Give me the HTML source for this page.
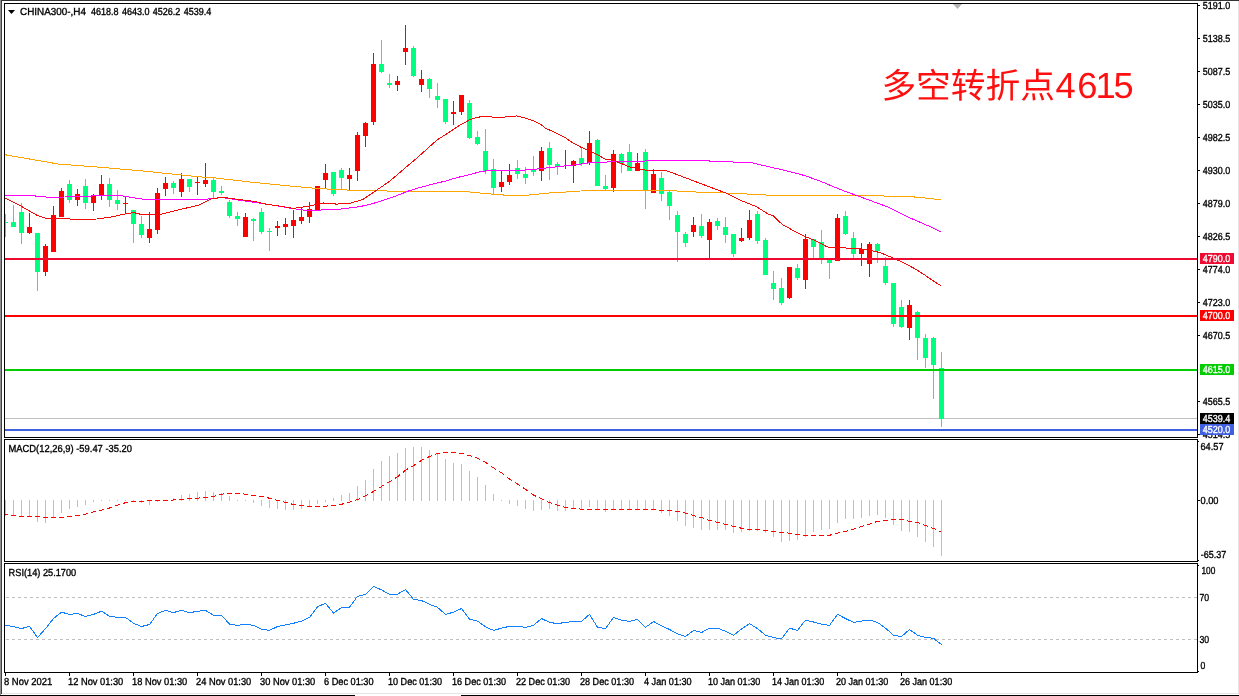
<!DOCTYPE html>
<html><head><meta charset="utf-8"><title>CHINA300-,H4</title>
<style>html,body{margin:0;padding:0;background:#fff;overflow:hidden}body{width:1239px;height:696px}svg{display:block}text{font-family:"Liberation Sans","Noto Sans CJK SC",sans-serif;font-size:10.2px;text-rendering:geometricPrecision;fill:#000;stroke:#000;stroke-width:.35px}.t{font-size:34px;fill:#ff1010;stroke:none}.w{fill:#fff;stroke:#fff}</style>
</head><body>
<svg width="1239" height="696" viewBox="0 0 1239 696">
<rect width="1239" height="696" fill="#fff"/>
<g shape-rendering="crispEdges">
<rect x="0" y="0" width="1239" height="1" fill="#333"/>
<rect x="0" y="0" width="1" height="696" fill="#909090"/>
<rect x="1" y="0" width="1" height="694" fill="#404040"/>
<rect x="1238" y="1" width="1" height="693" fill="#e4e4e4"/>
<rect x="2" y="693" width="1237" height="1" fill="#e4e4e4"/>
<rect x="0" y="695" width="1239" height="1" fill="#000"/>
<rect x="355" y="695" width="106" height="1" fill="#fff"/>
<rect x="4" y="3" width="1194" height="1" fill="#000"/>
<rect x="4" y="437" width="1194" height="1" fill="#000"/>
<rect x="4" y="3" width="1" height="435" fill="#000"/>
<rect x="1197" y="3" width="1" height="435" fill="#000"/>
<rect x="4" y="439" width="1194" height="1" fill="#000"/>
<rect x="4" y="561" width="1194" height="1" fill="#000"/>
<rect x="4" y="439" width="1" height="123" fill="#000"/>
<rect x="1197" y="439" width="1" height="123" fill="#000"/>
<rect x="4" y="563" width="1194" height="1" fill="#000"/>
<rect x="4" y="672" width="1194" height="1" fill="#000"/>
<rect x="4" y="563" width="1" height="110" fill="#000"/>
<rect x="1197" y="563" width="1" height="110" fill="#000"/>
<rect x="1198" y="441" width="1" height="1" fill="#000"/>
<rect x="1198" y="560" width="1" height="1" fill="#000"/>
<rect x="1198" y="565" width="1" height="1" fill="#000"/>
<rect x="1198" y="671" width="1" height="1" fill="#000"/>
</g>
<defs><clipPath id="c1"><rect x="5" y="4" width="1192" height="433"/></clipPath><clipPath id="c2"><rect x="5" y="440" width="1192" height="121"/></clipPath><clipPath id="c3"><rect x="5" y="564" width="1192" height="108"/></clipPath></defs>
<g clip-path="url(#c1)">
<path d="M953 4h9l-4.5 5z" fill="#b4b4b4"/>
<g shape-rendering="crispEdges">
<rect x="5" y="418" width="1192" height="1" fill="#c0c0c0"/>
</g>
<g shape-rendering="crispEdges">
<rect x="5" y="214" width="1" height="23" fill="#00ff7f"/>
<rect x="3" y="222" width="5" height="1" fill="#00ff7f"/>
<rect x="13" y="205" width="1" height="22" fill="#00ff7f"/>
<rect x="11" y="222" width="5" height="5" fill="#00ff7f"/>
<rect x="21" y="203" width="1" height="41" fill="#00ff7f"/>
<rect x="19" y="212" width="5" height="21" fill="#00ff7f"/>
<rect x="29" y="213" width="1" height="21" fill="#ff0000"/>
<rect x="27" y="227" width="5" height="6" fill="#ff0000"/>
<rect x="37" y="233" width="1" height="58" fill="#00ff7f"/>
<rect x="35" y="233" width="5" height="39" fill="#00ff7f"/>
<rect x="45" y="244" width="1" height="32" fill="#ff0000"/>
<rect x="43" y="246" width="5" height="26" fill="#ff0000"/>
<rect x="53" y="206" width="1" height="46" fill="#ff0000"/>
<rect x="51" y="215" width="5" height="37" fill="#ff0000"/>
<rect x="61" y="188" width="1" height="29" fill="#ff0000"/>
<rect x="59" y="191" width="5" height="26" fill="#ff0000"/>
<rect x="69" y="180" width="1" height="23" fill="#00ff7f"/>
<rect x="67" y="184" width="5" height="16" fill="#00ff7f"/>
<rect x="77" y="189" width="1" height="17" fill="#ff0000"/>
<rect x="75" y="194" width="5" height="6" fill="#ff0000"/>
<rect x="85" y="179" width="1" height="30" fill="#00ff7f"/>
<rect x="83" y="186" width="5" height="17" fill="#00ff7f"/>
<rect x="93" y="194" width="1" height="17" fill="#ff0000"/>
<rect x="91" y="195" width="5" height="8" fill="#ff0000"/>
<rect x="101" y="175" width="1" height="25" fill="#ff0000"/>
<rect x="99" y="184" width="5" height="11" fill="#ff0000"/>
<rect x="109" y="178" width="1" height="29" fill="#00ff7f"/>
<rect x="107" y="184" width="5" height="16" fill="#00ff7f"/>
<rect x="117" y="190" width="1" height="20" fill="#00ff7f"/>
<rect x="115" y="200" width="5" height="4" fill="#00ff7f"/>
<rect x="125" y="196" width="1" height="18" fill="#ff0000"/>
<rect x="123" y="203" width="5" height="1" fill="#ff0000"/>
<rect x="133" y="210" width="1" height="33" fill="#00ff7f"/>
<rect x="131" y="210" width="5" height="14" fill="#00ff7f"/>
<rect x="141" y="216" width="1" height="22" fill="#00ff7f"/>
<rect x="139" y="224" width="5" height="11" fill="#00ff7f"/>
<rect x="149" y="212" width="1" height="31" fill="#ff0000"/>
<rect x="147" y="229" width="5" height="9" fill="#ff0000"/>
<rect x="157" y="188" width="1" height="46" fill="#ff0000"/>
<rect x="155" y="193" width="5" height="37" fill="#ff0000"/>
<rect x="165" y="177" width="1" height="19" fill="#ff0000"/>
<rect x="163" y="183" width="5" height="6" fill="#ff0000"/>
<rect x="173" y="181" width="1" height="13" fill="#00ff7f"/>
<rect x="171" y="183" width="5" height="5" fill="#00ff7f"/>
<rect x="181" y="173" width="1" height="24" fill="#ff0000"/>
<rect x="179" y="179" width="5" height="13" fill="#ff0000"/>
<rect x="189" y="179" width="1" height="13" fill="#00ff7f"/>
<rect x="187" y="179" width="5" height="8" fill="#00ff7f"/>
<rect x="197" y="176" width="1" height="19" fill="#ff0000"/>
<rect x="195" y="182" width="5" height="1" fill="#ff0000"/>
<rect x="205" y="163" width="1" height="24" fill="#ff0000"/>
<rect x="203" y="180" width="5" height="4" fill="#ff0000"/>
<rect x="213" y="178" width="1" height="20" fill="#00ff7f"/>
<rect x="211" y="180" width="5" height="12" fill="#00ff7f"/>
<rect x="221" y="186" width="1" height="9" fill="#00ff7f"/>
<rect x="219" y="191" width="5" height="2" fill="#00ff7f"/>
<rect x="229" y="200" width="1" height="18" fill="#00ff7f"/>
<rect x="227" y="202" width="5" height="14" fill="#00ff7f"/>
<rect x="237" y="212" width="1" height="14" fill="#00ff7f"/>
<rect x="235" y="216" width="5" height="3" fill="#00ff7f"/>
<rect x="245" y="213" width="1" height="24" fill="#ff0000"/>
<rect x="243" y="217" width="5" height="20" fill="#ff0000"/>
<rect x="253" y="218" width="1" height="23" fill="#00ff7f"/>
<rect x="251" y="219" width="5" height="2" fill="#00ff7f"/>
<rect x="261" y="208" width="1" height="26" fill="#00ff7f"/>
<rect x="259" y="212" width="5" height="20" fill="#00ff7f"/>
<rect x="269" y="228" width="1" height="23" fill="#00ff7f"/>
<rect x="267" y="231" width="5" height="1" fill="#00ff7f"/>
<rect x="277" y="221" width="1" height="15" fill="#ff0000"/>
<rect x="275" y="226" width="5" height="2" fill="#ff0000"/>
<rect x="285" y="218" width="1" height="17" fill="#ff0000"/>
<rect x="283" y="224" width="5" height="3" fill="#ff0000"/>
<rect x="293" y="210" width="1" height="28" fill="#ff0000"/>
<rect x="291" y="220" width="5" height="6" fill="#ff0000"/>
<rect x="301" y="207" width="1" height="17" fill="#ff0000"/>
<rect x="299" y="217" width="5" height="4" fill="#ff0000"/>
<rect x="309" y="202" width="1" height="21" fill="#ff0000"/>
<rect x="307" y="209" width="5" height="8" fill="#ff0000"/>
<rect x="317" y="186" width="1" height="24" fill="#ff0000"/>
<rect x="315" y="186" width="5" height="24" fill="#ff0000"/>
<rect x="325" y="164" width="1" height="25" fill="#ff0000"/>
<rect x="323" y="173" width="5" height="7" fill="#ff0000"/>
<rect x="333" y="172" width="1" height="24" fill="#00ff7f"/>
<rect x="331" y="172" width="5" height="22" fill="#00ff7f"/>
<rect x="341" y="168" width="1" height="21" fill="#00ff7f"/>
<rect x="339" y="170" width="5" height="8" fill="#00ff7f"/>
<rect x="349" y="168" width="1" height="22" fill="#ff0000"/>
<rect x="347" y="175" width="5" height="4" fill="#ff0000"/>
<rect x="357" y="132" width="1" height="49" fill="#ff0000"/>
<rect x="355" y="135" width="5" height="36" fill="#ff0000"/>
<rect x="365" y="122" width="1" height="25" fill="#ff0000"/>
<rect x="363" y="123" width="5" height="13" fill="#ff0000"/>
<rect x="373" y="53" width="1" height="72" fill="#ff0000"/>
<rect x="371" y="64" width="5" height="58" fill="#ff0000"/>
<rect x="381" y="40" width="1" height="33" fill="#00ff7f"/>
<rect x="379" y="64" width="5" height="8" fill="#00ff7f"/>
<rect x="389" y="74" width="1" height="14" fill="#00ff7f"/>
<rect x="387" y="83" width="5" height="2" fill="#00ff7f"/>
<rect x="397" y="76" width="1" height="15" fill="#ff0000"/>
<rect x="395" y="81" width="5" height="4" fill="#ff0000"/>
<rect x="405" y="25" width="1" height="40" fill="#ff0000"/>
<rect x="403" y="48" width="5" height="4" fill="#ff0000"/>
<rect x="413" y="46" width="1" height="31" fill="#00ff7f"/>
<rect x="411" y="48" width="5" height="28" fill="#00ff7f"/>
<rect x="421" y="70" width="1" height="22" fill="#ff0000"/>
<rect x="419" y="79" width="5" height="6" fill="#ff0000"/>
<rect x="429" y="78" width="1" height="20" fill="#00ff7f"/>
<rect x="427" y="79" width="5" height="10" fill="#00ff7f"/>
<rect x="437" y="83" width="1" height="25" fill="#00ff7f"/>
<rect x="435" y="96" width="5" height="4" fill="#00ff7f"/>
<rect x="445" y="99" width="1" height="25" fill="#00ff7f"/>
<rect x="443" y="99" width="5" height="23" fill="#00ff7f"/>
<rect x="453" y="101" width="1" height="24" fill="#ff0000"/>
<rect x="451" y="112" width="5" height="2" fill="#ff0000"/>
<rect x="461" y="95" width="1" height="20" fill="#ff0000"/>
<rect x="459" y="95" width="5" height="17" fill="#ff0000"/>
<rect x="469" y="100" width="1" height="39" fill="#00ff7f"/>
<rect x="467" y="103" width="5" height="35" fill="#00ff7f"/>
<rect x="477" y="131" width="1" height="14" fill="#00ff7f"/>
<rect x="475" y="137" width="5" height="7" fill="#00ff7f"/>
<rect x="485" y="129" width="1" height="45" fill="#00ff7f"/>
<rect x="483" y="151" width="5" height="20" fill="#00ff7f"/>
<rect x="493" y="159" width="1" height="35" fill="#00ff7f"/>
<rect x="491" y="169" width="5" height="19" fill="#00ff7f"/>
<rect x="501" y="170" width="1" height="22" fill="#ff0000"/>
<rect x="499" y="182" width="5" height="5" fill="#ff0000"/>
<rect x="509" y="164" width="1" height="21" fill="#ff0000"/>
<rect x="507" y="175" width="5" height="7" fill="#ff0000"/>
<rect x="517" y="160" width="1" height="19" fill="#00ff7f"/>
<rect x="515" y="168" width="5" height="6" fill="#00ff7f"/>
<rect x="525" y="167" width="1" height="17" fill="#00ff7f"/>
<rect x="523" y="174" width="5" height="4" fill="#00ff7f"/>
<rect x="533" y="156" width="1" height="20" fill="#00ff7f"/>
<rect x="531" y="170" width="5" height="2" fill="#00ff7f"/>
<rect x="541" y="147" width="1" height="34" fill="#ff0000"/>
<rect x="539" y="151" width="5" height="20" fill="#ff0000"/>
<rect x="549" y="142" width="1" height="38" fill="#00ff7f"/>
<rect x="547" y="148" width="5" height="17" fill="#00ff7f"/>
<rect x="557" y="162" width="1" height="13" fill="#00ff7f"/>
<rect x="555" y="164" width="5" height="3" fill="#00ff7f"/>
<rect x="565" y="150" width="1" height="19" fill="#ff0000"/>
<rect x="573" y="160" width="1" height="23" fill="#ff0000"/>
<rect x="571" y="161" width="5" height="5" fill="#ff0000"/>
<rect x="581" y="148" width="1" height="18" fill="#00ff7f"/>
<rect x="579" y="158" width="5" height="6" fill="#00ff7f"/>
<rect x="589" y="131" width="1" height="34" fill="#ff0000"/>
<rect x="587" y="143" width="5" height="20" fill="#ff0000"/>
<rect x="597" y="139" width="1" height="47" fill="#00ff7f"/>
<rect x="595" y="140" width="5" height="46" fill="#00ff7f"/>
<rect x="605" y="175" width="1" height="15" fill="#00ff7f"/>
<rect x="603" y="186" width="5" height="3" fill="#00ff7f"/>
<rect x="613" y="150" width="1" height="42" fill="#ff0000"/>
<rect x="611" y="154" width="5" height="34" fill="#ff0000"/>
<rect x="621" y="153" width="1" height="20" fill="#00ff7f"/>
<rect x="619" y="154" width="5" height="10" fill="#00ff7f"/>
<rect x="629" y="144" width="1" height="27" fill="#00ff7f"/>
<rect x="627" y="152" width="5" height="19" fill="#00ff7f"/>
<rect x="637" y="153" width="1" height="18" fill="#ff0000"/>
<rect x="635" y="163" width="5" height="8" fill="#ff0000"/>
<rect x="645" y="149" width="1" height="60" fill="#00ff7f"/>
<rect x="643" y="152" width="5" height="39" fill="#00ff7f"/>
<rect x="653" y="169" width="1" height="24" fill="#ff0000"/>
<rect x="651" y="174" width="5" height="19" fill="#ff0000"/>
<rect x="661" y="172" width="1" height="29" fill="#00ff7f"/>
<rect x="659" y="178" width="5" height="16" fill="#00ff7f"/>
<rect x="669" y="191" width="1" height="29" fill="#00ff7f"/>
<rect x="667" y="192" width="5" height="14" fill="#00ff7f"/>
<rect x="677" y="211" width="1" height="51" fill="#00ff7f"/>
<rect x="675" y="215" width="5" height="17" fill="#00ff7f"/>
<rect x="685" y="232" width="1" height="15" fill="#00ff7f"/>
<rect x="683" y="234" width="5" height="9" fill="#00ff7f"/>
<rect x="693" y="217" width="1" height="20" fill="#ff0000"/>
<rect x="691" y="225" width="5" height="7" fill="#ff0000"/>
<rect x="701" y="214" width="1" height="24" fill="#00ff7f"/>
<rect x="699" y="226" width="5" height="10" fill="#00ff7f"/>
<rect x="709" y="219" width="1" height="39" fill="#ff0000"/>
<rect x="707" y="222" width="5" height="18" fill="#ff0000"/>
<rect x="717" y="218" width="1" height="12" fill="#00ff7f"/>
<rect x="715" y="221" width="5" height="5" fill="#00ff7f"/>
<rect x="725" y="217" width="1" height="26" fill="#00ff7f"/>
<rect x="723" y="227" width="5" height="8" fill="#00ff7f"/>
<rect x="733" y="234" width="1" height="23" fill="#00ff7f"/>
<rect x="731" y="234" width="5" height="20" fill="#00ff7f"/>
<rect x="741" y="228" width="1" height="14" fill="#ff0000"/>
<rect x="739" y="238" width="5" height="3" fill="#ff0000"/>
<rect x="749" y="210" width="1" height="30" fill="#ff0000"/>
<rect x="747" y="220" width="5" height="18" fill="#ff0000"/>
<rect x="757" y="211" width="1" height="33" fill="#00ff7f"/>
<rect x="755" y="214" width="5" height="27" fill="#00ff7f"/>
<rect x="765" y="238" width="1" height="37" fill="#00ff7f"/>
<rect x="763" y="240" width="5" height="35" fill="#00ff7f"/>
<rect x="773" y="271" width="1" height="29" fill="#00ff7f"/>
<rect x="771" y="283" width="5" height="6" fill="#00ff7f"/>
<rect x="781" y="278" width="1" height="27" fill="#00ff7f"/>
<rect x="779" y="288" width="5" height="15" fill="#00ff7f"/>
<rect x="789" y="267" width="1" height="32" fill="#ff0000"/>
<rect x="787" y="267" width="5" height="31" fill="#ff0000"/>
<rect x="797" y="264" width="1" height="16" fill="#00ff7f"/>
<rect x="795" y="268" width="5" height="10" fill="#00ff7f"/>
<rect x="805" y="234" width="1" height="55" fill="#ff0000"/>
<rect x="803" y="239" width="5" height="41" fill="#ff0000"/>
<rect x="813" y="239" width="1" height="19" fill="#00ff7f"/>
<rect x="811" y="239" width="5" height="8" fill="#00ff7f"/>
<rect x="821" y="230" width="1" height="34" fill="#00ff7f"/>
<rect x="819" y="242" width="5" height="16" fill="#00ff7f"/>
<rect x="829" y="260" width="1" height="19" fill="#00ff7f"/>
<rect x="827" y="260" width="5" height="3" fill="#00ff7f"/>
<rect x="837" y="214" width="1" height="47" fill="#ff0000"/>
<rect x="835" y="218" width="5" height="43" fill="#ff0000"/>
<rect x="845" y="211" width="1" height="24" fill="#00ff7f"/>
<rect x="843" y="216" width="5" height="18" fill="#00ff7f"/>
<rect x="853" y="232" width="1" height="26" fill="#00ff7f"/>
<rect x="851" y="238" width="5" height="16" fill="#00ff7f"/>
<rect x="861" y="243" width="1" height="23" fill="#ff0000"/>
<rect x="859" y="249" width="5" height="5" fill="#ff0000"/>
<rect x="869" y="242" width="1" height="35" fill="#ff0000"/>
<rect x="867" y="244" width="5" height="20" fill="#ff0000"/>
<rect x="877" y="243" width="1" height="20" fill="#00ff7f"/>
<rect x="875" y="244" width="5" height="7" fill="#00ff7f"/>
<rect x="885" y="257" width="1" height="28" fill="#00ff7f"/>
<rect x="883" y="266" width="5" height="17" fill="#00ff7f"/>
<rect x="893" y="283" width="1" height="44" fill="#00ff7f"/>
<rect x="891" y="283" width="5" height="41" fill="#00ff7f"/>
<rect x="901" y="300" width="1" height="28" fill="#00ff7f"/>
<rect x="899" y="307" width="5" height="20" fill="#00ff7f"/>
<rect x="909" y="300" width="1" height="40" fill="#ff0000"/>
<rect x="907" y="305" width="5" height="23" fill="#ff0000"/>
<rect x="917" y="311" width="1" height="49" fill="#00ff7f"/>
<rect x="915" y="312" width="5" height="26" fill="#00ff7f"/>
<rect x="925" y="334" width="1" height="34" fill="#00ff7f"/>
<rect x="923" y="338" width="5" height="20" fill="#00ff7f"/>
<rect x="933" y="337" width="1" height="62" fill="#00ff7f"/>
<rect x="931" y="338" width="5" height="27" fill="#00ff7f"/>
<rect x="941" y="352" width="1" height="75" fill="#00ff7f"/>
<rect x="939" y="368" width="5" height="51" fill="#00ff7f"/>
</g>
<polyline points="4.7,154.7 58.2,164.0 99.1,167.2 137.9,170.5 200.0,176.9 213.7,177.8 254.7,182.5 287.0,185.7 317.2,188.5 348.4,190.1 372.6,190.8 409.0,191.3 464.6,191.5 481.6,193.2 505.8,195.2 527.6,195.2 551.8,192.7 566.3,192.0 590.6,190.3 620.9,190.2 670.0,190.6 704.7,192.5 730.5,193.1 760.7,194.8 786.6,195.9 812.4,195.9 840.0,195.3 861.5,195.4 890.6,196.2 905.1,196.2 922.5,197.7 940.5,199.7" fill="none" stroke="#ffa500" stroke-width="1" stroke-linejoin="round" shape-rendering="crispEdges" />
<polyline points="4.7,195.3 32.3,195.7 49.6,197.4 64.7,197.0 86.2,196.3 103.4,195.3 120.7,195.7 133.6,197.8 146.6,199.6 200.0,199.6 211.6,198.7 222.3,197.6 239.6,200.2 259.0,203.0 276.2,205.6 291.3,208.4 306.4,210.5 319.3,210.1 340.9,209.0 360.5,206.5 372.6,203.6 384.7,199.8 396.9,195.6 409.0,190.8 421.1,187.2 433.2,184.0 445.3,181.1 457.4,177.5 469.5,174.6 481.6,171.4 493.7,170.2 513.1,170.8 534.7,169.3 556.2,166.9 573.4,165.0 590.7,162.6 603.6,162.2 620.9,161.1 642.4,161.1 657.5,160.5 670.0,160.5 704.7,160.8 730.5,161.9 752.1,162.9 769.3,166.8 786.6,170.9 805.9,175.9 823.2,182.3 840.0,189.4 889.3,207.5 910.9,218.3 932.4,227.6 940.6,231.7" fill="none" stroke="#ff00ff" stroke-width="1" stroke-linejoin="round" shape-rendering="crispEdges" />
<polyline points="4.7,197.8 21.6,206.5 37.7,215.7 46.3,218.5 53.9,218.5 81.9,219.4 97.0,219.0 112.1,216.8 125.0,214.0 133.6,212.5 142.2,214.7 159.5,214.7 172.4,211.4 198.6,205.1 211.6,198.7 222.3,197.2 233.1,198.7 254.7,201.5 265.4,204.1 280.5,206.2 293.4,208.4 308.5,206.2 323.6,203.0 336.6,204.1 349.5,203.4 362.4,199.7 375.3,191.1 390.0,181.0 408.5,165.0 415.4,159.4 426.2,149.7 437.0,140.0 447.8,133.1 458.5,126.0 469.3,120.0 476.5,117.4 485.1,116.3 495.2,117.4 508.1,116.9 516.7,115.9 523.9,117.6 534.0,121.0 540.0,123.8 545.4,128.1 556.2,133.1 564.8,137.4 573.4,143.2 582.1,147.8 590.7,151.4 599.3,155.7 605.8,159.4 612.2,160.0 620.9,163.3 629.5,166.9 638.1,168.7 646.7,170.4 652.9,170.5 659.7,170.4 668.0,171.1 683.1,176.9 704.7,185.1 726.2,193.1 741.3,200.6 756.4,206.7 769.3,214.7 772.9,215.5 782.2,224.4 794.5,231.2 805.3,236.6 816.0,240.9 827.5,247.0 836.1,247.4 841.9,247.8 854.8,248.5 867.8,249.6 880.7,252.8 893.6,258.2 906.6,264.2 915.2,269.0 923.8,274.4 932.4,280.2 940.6,285.6" fill="none" stroke="#f40808" stroke-width="1" stroke-linejoin="round" shape-rendering="crispEdges" />
<g shape-rendering="crispEdges">
<rect x="5" y="258" width="1192" height="2" fill="#ee0a30"/>
<rect x="5" y="315" width="1192" height="2" fill="#ff0000"/>
<rect x="5" y="369" width="1192" height="2" fill="#00cc00"/>
<rect x="5" y="429" width="1192" height="2" fill="#4060e0"/>
</g>
</g>
<path d="M8 10h7l-3.5 4z" fill="#000"/>
<text x="20" y="15" textLength="66" lengthAdjust="spacingAndGlyphs">CHINA300-,H4</text>
<text x="91.0" y="15" textLength="27.6" lengthAdjust="spacingAndGlyphs">4618.8</text>
<text x="121.9" y="15" textLength="27.6" lengthAdjust="spacingAndGlyphs">4643.0</text>
<text x="152.8" y="15" textLength="27.6" lengthAdjust="spacingAndGlyphs">4526.2</text>
<text x="183.7" y="15" textLength="27.6" lengthAdjust="spacingAndGlyphs">4539.4</text>
<text class="t" y="97.8"><tspan x="881.4" style="font-size:34.7px">多空转折点</tspan><tspan style="font-size:36.3px" x="1055.5 1077.3 1095.6 1113.4">4615</tspan></text>
<g shape-rendering="crispEdges">
<rect x="1198" y="5" width="2" height="1" fill="#000"/>
<rect x="1198" y="38" width="2" height="1" fill="#000"/>
<rect x="1198" y="71" width="2" height="1" fill="#000"/>
<rect x="1198" y="104" width="2" height="1" fill="#000"/>
<rect x="1198" y="137" width="2" height="1" fill="#000"/>
<rect x="1198" y="170" width="2" height="1" fill="#000"/>
<rect x="1198" y="203" width="2" height="1" fill="#000"/>
<rect x="1198" y="236" width="2" height="1" fill="#000"/>
<rect x="1198" y="269" width="2" height="1" fill="#000"/>
<rect x="1198" y="302" width="2" height="1" fill="#000"/>
<rect x="1198" y="335" width="2" height="1" fill="#000"/>
<rect x="1198" y="401" width="2" height="1" fill="#000"/>
<rect x="1198" y="434" width="2" height="1" fill="#000"/>
</g>
<text x="1202.7" y="9" textLength="27.5" lengthAdjust="spacingAndGlyphs">5191.0</text>
<text x="1202.7" y="42" textLength="27.5" lengthAdjust="spacingAndGlyphs">5138.5</text>
<text x="1202.7" y="75" textLength="27.5" lengthAdjust="spacingAndGlyphs">5087.5</text>
<text x="1202.7" y="108" textLength="27.5" lengthAdjust="spacingAndGlyphs">5035.0</text>
<text x="1202.7" y="141" textLength="27.5" lengthAdjust="spacingAndGlyphs">4982.5</text>
<text x="1202.7" y="174" textLength="27.5" lengthAdjust="spacingAndGlyphs">4930.0</text>
<text x="1202.7" y="207" textLength="27.5" lengthAdjust="spacingAndGlyphs">4879.0</text>
<text x="1202.7" y="240" textLength="27.5" lengthAdjust="spacingAndGlyphs">4826.5</text>
<text x="1202.7" y="273" textLength="27.5" lengthAdjust="spacingAndGlyphs">4774.0</text>
<text x="1202.7" y="306" textLength="27.5" lengthAdjust="spacingAndGlyphs">4723.0</text>
<text x="1202.7" y="339" textLength="27.5" lengthAdjust="spacingAndGlyphs">4670.5</text>
<text x="1202.7" y="405" textLength="27.5" lengthAdjust="spacingAndGlyphs">4565.5</text>
<text x="1202.7" y="438" textLength="27.5" lengthAdjust="spacingAndGlyphs">4514.5</text>
<rect x="1200" y="253" width="34" height="11" fill="#ee0a30" shape-rendering="crispEdges"/>
<text class="w" x="1202.7" y="262" textLength="27.5" lengthAdjust="spacingAndGlyphs">4790.0</text>
<rect x="1200" y="310" width="34" height="11" fill="#ff0000" shape-rendering="crispEdges"/>
<text class="w" x="1202.7" y="319" textLength="27.5" lengthAdjust="spacingAndGlyphs">4700.0</text>
<rect x="1200" y="364" width="34" height="11" fill="#00cc00" shape-rendering="crispEdges"/>
<text class="w" x="1202.7" y="373" textLength="27.5" lengthAdjust="spacingAndGlyphs">4615.0</text>
<rect x="1200" y="413" width="34" height="11" fill="#000" shape-rendering="crispEdges"/>
<text class="w" x="1202.7" y="422" textLength="27.5" lengthAdjust="spacingAndGlyphs">4539.4</text>
<rect x="1200" y="424" width="34" height="11" fill="#4060e0" shape-rendering="crispEdges"/>
<text class="w" x="1202.7" y="433" textLength="27.5" lengthAdjust="spacingAndGlyphs">4520.0</text>
<g clip-path="url(#c2)">
<g shape-rendering="crispEdges">
<rect x="5" y="500" width="1" height="16" fill="#c0c0c0"/>
<rect x="13" y="500" width="1" height="16" fill="#c0c0c0"/>
<rect x="21" y="500" width="1" height="17" fill="#c0c0c0"/>
<rect x="29" y="500" width="1" height="17" fill="#c0c0c0"/>
<rect x="37" y="500" width="1" height="22" fill="#c0c0c0"/>
<rect x="45" y="500" width="1" height="23" fill="#c0c0c0"/>
<rect x="53" y="500" width="1" height="18" fill="#c0c0c0"/>
<rect x="61" y="500" width="1" height="13" fill="#c0c0c0"/>
<rect x="69" y="500" width="1" height="9" fill="#c0c0c0"/>
<rect x="77" y="500" width="1" height="7" fill="#c0c0c0"/>
<rect x="85" y="500" width="1" height="5" fill="#c0c0c0"/>
<rect x="93" y="500" width="1" height="2" fill="#c0c0c0"/>
<rect x="101" y="500" width="1" height="1" fill="#c0c0c0"/>
<rect x="109" y="500" width="1" height="1" fill="#c0c0c0"/>
<rect x="117" y="500" width="1" height="1" fill="#c0c0c0"/>
<rect x="125" y="500" width="1" height="1" fill="#c0c0c0"/>
<rect x="133" y="500" width="1" height="1" fill="#c0c0c0"/>
<rect x="141" y="500" width="1" height="3" fill="#c0c0c0"/>
<rect x="149" y="500" width="1" height="5" fill="#c0c0c0"/>
<rect x="157" y="500" width="1" height="2" fill="#c0c0c0"/>
<rect x="165" y="500" width="1" height="1" fill="#c0c0c0"/>
<rect x="173" y="498" width="1" height="3" fill="#c0c0c0"/>
<rect x="181" y="495" width="1" height="6" fill="#c0c0c0"/>
<rect x="189" y="494" width="1" height="7" fill="#c0c0c0"/>
<rect x="197" y="492" width="1" height="9" fill="#c0c0c0"/>
<rect x="205" y="491" width="1" height="10" fill="#c0c0c0"/>
<rect x="213" y="492" width="1" height="9" fill="#c0c0c0"/>
<rect x="221" y="493" width="1" height="8" fill="#c0c0c0"/>
<rect x="229" y="496" width="1" height="5" fill="#c0c0c0"/>
<rect x="237" y="500" width="1" height="1" fill="#c0c0c0"/>
<rect x="245" y="500" width="1" height="1" fill="#c0c0c0"/>
<rect x="253" y="500" width="1" height="3" fill="#c0c0c0"/>
<rect x="261" y="500" width="1" height="6" fill="#c0c0c0"/>
<rect x="269" y="500" width="1" height="8" fill="#c0c0c0"/>
<rect x="277" y="500" width="1" height="9" fill="#c0c0c0"/>
<rect x="285" y="500" width="1" height="10" fill="#c0c0c0"/>
<rect x="293" y="500" width="1" height="10" fill="#c0c0c0"/>
<rect x="301" y="500" width="1" height="9" fill="#c0c0c0"/>
<rect x="309" y="500" width="1" height="7" fill="#c0c0c0"/>
<rect x="317" y="500" width="1" height="4" fill="#c0c0c0"/>
<rect x="325" y="500" width="1" height="2" fill="#c0c0c0"/>
<rect x="333" y="498" width="1" height="3" fill="#c0c0c0"/>
<rect x="341" y="495" width="1" height="6" fill="#c0c0c0"/>
<rect x="349" y="493" width="1" height="8" fill="#c0c0c0"/>
<rect x="357" y="486" width="1" height="15" fill="#c0c0c0"/>
<rect x="365" y="480" width="1" height="21" fill="#c0c0c0"/>
<rect x="373" y="469" width="1" height="32" fill="#c0c0c0"/>
<rect x="381" y="461" width="1" height="40" fill="#c0c0c0"/>
<rect x="389" y="456" width="1" height="45" fill="#c0c0c0"/>
<rect x="397" y="453" width="1" height="48" fill="#c0c0c0"/>
<rect x="405" y="448" width="1" height="53" fill="#c0c0c0"/>
<rect x="413" y="447" width="1" height="54" fill="#c0c0c0"/>
<rect x="421" y="447" width="1" height="54" fill="#c0c0c0"/>
<rect x="429" y="450" width="1" height="51" fill="#c0c0c0"/>
<rect x="437" y="454" width="1" height="47" fill="#c0c0c0"/>
<rect x="445" y="459" width="1" height="42" fill="#c0c0c0"/>
<rect x="453" y="463" width="1" height="38" fill="#c0c0c0"/>
<rect x="461" y="464" width="1" height="37" fill="#c0c0c0"/>
<rect x="469" y="471" width="1" height="30" fill="#c0c0c0"/>
<rect x="477" y="477" width="1" height="24" fill="#c0c0c0"/>
<rect x="485" y="485" width="1" height="16" fill="#c0c0c0"/>
<rect x="493" y="494" width="1" height="7" fill="#c0c0c0"/>
<rect x="501" y="500" width="1" height="1" fill="#c0c0c0"/>
<rect x="509" y="500" width="1" height="4" fill="#c0c0c0"/>
<rect x="517" y="500" width="1" height="6" fill="#c0c0c0"/>
<rect x="525" y="500" width="1" height="9" fill="#c0c0c0"/>
<rect x="533" y="500" width="1" height="11" fill="#c0c0c0"/>
<rect x="541" y="500" width="1" height="10" fill="#c0c0c0"/>
<rect x="549" y="500" width="1" height="9" fill="#c0c0c0"/>
<rect x="557" y="500" width="1" height="11" fill="#c0c0c0"/>
<rect x="565" y="500" width="1" height="11" fill="#c0c0c0"/>
<rect x="573" y="500" width="1" height="9" fill="#c0c0c0"/>
<rect x="581" y="500" width="1" height="10" fill="#c0c0c0"/>
<rect x="589" y="500" width="1" height="7" fill="#c0c0c0"/>
<rect x="597" y="500" width="1" height="10" fill="#c0c0c0"/>
<rect x="605" y="500" width="1" height="12" fill="#c0c0c0"/>
<rect x="613" y="500" width="1" height="10" fill="#c0c0c0"/>
<rect x="621" y="500" width="1" height="10" fill="#c0c0c0"/>
<rect x="629" y="500" width="1" height="10" fill="#c0c0c0"/>
<rect x="637" y="500" width="1" height="9" fill="#c0c0c0"/>
<rect x="645" y="500" width="1" height="10" fill="#c0c0c0"/>
<rect x="653" y="500" width="1" height="10" fill="#c0c0c0"/>
<rect x="661" y="500" width="1" height="13" fill="#c0c0c0"/>
<rect x="669" y="500" width="1" height="16" fill="#c0c0c0"/>
<rect x="677" y="500" width="1" height="21" fill="#c0c0c0"/>
<rect x="685" y="500" width="1" height="26" fill="#c0c0c0"/>
<rect x="693" y="500" width="1" height="28" fill="#c0c0c0"/>
<rect x="701" y="500" width="1" height="30" fill="#c0c0c0"/>
<rect x="709" y="500" width="1" height="30" fill="#c0c0c0"/>
<rect x="717" y="500" width="1" height="30" fill="#c0c0c0"/>
<rect x="725" y="500" width="1" height="30" fill="#c0c0c0"/>
<rect x="733" y="500" width="1" height="33" fill="#c0c0c0"/>
<rect x="741" y="500" width="1" height="32" fill="#c0c0c0"/>
<rect x="749" y="500" width="1" height="31" fill="#c0c0c0"/>
<rect x="757" y="500" width="1" height="31" fill="#c0c0c0"/>
<rect x="765" y="500" width="1" height="33" fill="#c0c0c0"/>
<rect x="773" y="500" width="1" height="37" fill="#c0c0c0"/>
<rect x="781" y="500" width="1" height="42" fill="#c0c0c0"/>
<rect x="789" y="500" width="1" height="41" fill="#c0c0c0"/>
<rect x="797" y="500" width="1" height="40" fill="#c0c0c0"/>
<rect x="805" y="500" width="1" height="37" fill="#c0c0c0"/>
<rect x="813" y="500" width="1" height="32" fill="#c0c0c0"/>
<rect x="821" y="500" width="1" height="30" fill="#c0c0c0"/>
<rect x="829" y="500" width="1" height="29" fill="#c0c0c0"/>
<rect x="837" y="500" width="1" height="23" fill="#c0c0c0"/>
<rect x="845" y="500" width="1" height="19" fill="#c0c0c0"/>
<rect x="853" y="500" width="1" height="19" fill="#c0c0c0"/>
<rect x="861" y="500" width="1" height="18" fill="#c0c0c0"/>
<rect x="869" y="500" width="1" height="16" fill="#c0c0c0"/>
<rect x="877" y="500" width="1" height="15" fill="#c0c0c0"/>
<rect x="885" y="500" width="1" height="18" fill="#c0c0c0"/>
<rect x="893" y="500" width="1" height="25" fill="#c0c0c0"/>
<rect x="901" y="500" width="1" height="31" fill="#c0c0c0"/>
<rect x="909" y="500" width="1" height="32" fill="#c0c0c0"/>
<rect x="917" y="500" width="1" height="37" fill="#c0c0c0"/>
<rect x="925" y="500" width="1" height="42" fill="#c0c0c0"/>
<rect x="933" y="500" width="1" height="47" fill="#c0c0c0"/>
<rect x="941" y="500" width="1" height="56" fill="#c0c0c0"/>
</g>
<path d="M3.0 514.6L5.5 514.6L8.0 515.0M11.0 515.4L13.5 515.8L16.0 516.0M19.0 516.1L21.5 516.3L24.0 516.3M27.0 516.3L29.5 516.3L32.0 516.4M35.0 516.6L37.5 516.7L40.0 516.9M43.0 517.2L45.5 517.4L48.0 517.4M51.0 517.4L53.5 517.4L56.0 517.4M59.0 517.4L61.5 517.4L64.0 517.2M67.0 516.9L69.5 516.7L72.0 516.3M75.0 515.9L77.5 515.5L80.0 515.1M83.0 514.6L85.5 514.2L88.0 513.5M91.0 512.6L93.5 511.9L96.0 511.3M99.0 510.7L101.5 510.1L104.0 509.4M107.0 508.7L109.5 508.0L112.0 507.2M115.0 506.1L117.5 505.3L120.0 504.5M123.0 503.5L125.5 502.7L128.0 502.3M131.0 501.8L133.5 501.4L136.0 501.4M139.0 501.3L141.5 501.3L144.0 501.2M147.0 501.0L149.5 500.9L152.0 500.8M155.0 500.8L157.5 500.7L160.0 500.6M163.0 500.5L165.5 500.4L168.0 500.3M171.0 500.1L173.5 500.0L176.0 499.8M179.0 499.5L181.5 499.3L184.0 499.2M187.0 499.0L189.5 498.9L192.0 498.6M195.0 498.4L197.5 498.1L200.0 497.9M203.0 497.6L205.5 497.4L208.0 497.1M211.0 496.8L213.5 496.5L216.0 495.8M219.0 494.9L221.5 494.2L224.0 493.9M227.0 493.6L229.5 493.3L232.0 493.3M235.0 493.3L237.5 493.3L240.0 493.6M243.0 493.9L245.5 494.2L248.0 494.6M251.0 495.0L253.5 495.4L256.0 495.7M259.0 496.2L261.5 496.5L264.0 497.0M267.0 497.7L269.5 498.2L272.0 498.9M275.0 499.7L277.5 500.4L280.0 501.1M283.0 501.8L285.5 502.5L288.0 503.1M291.0 503.9L293.5 504.5L296.0 504.9M299.0 505.3L301.5 505.7L304.0 505.9M307.0 506.0L309.5 506.2L312.0 506.2M315.0 506.2L317.5 506.2L320.0 506.2M323.0 506.2L325.5 506.2L328.0 505.9M331.0 505.6L333.5 505.3L336.0 505.0M339.0 504.6L341.5 504.3L344.0 503.6M347.0 502.8L349.5 502.1L352.0 501.3M355.0 500.3L357.5 499.5L360.0 498.4M363.0 497.0L365.5 495.9L368.0 494.5M371.0 492.9L373.5 491.5L376.0 489.9M379.0 488.1L381.5 486.5L384.0 485.0M387.0 483.2L389.5 481.7L392.0 480.2M395.0 478.3L397.5 476.8L400.0 474.7M403.0 472.3L405.5 470.2L408.0 468.8M411.0 467.1L413.5 465.7L416.0 464.0M419.0 462.1L421.5 460.4L424.0 459.2M427.0 457.7L429.5 456.5L432.0 455.5M435.0 454.3L437.5 453.3L440.0 453.1M443.0 452.8L445.5 452.6L448.0 452.6M451.0 452.6L453.5 452.6L456.0 452.8M459.0 453.1L461.5 453.3L464.0 454.0M467.0 454.9L469.5 455.6L472.0 456.4M475.0 457.5L477.5 458.3L480.0 459.5M483.0 461.0L485.5 462.2L488.0 464.0M491.0 466.1L493.5 467.9L496.0 469.4M499.0 471.3L501.5 472.8L504.0 474.8M507.0 477.1L509.5 479.1L512.0 480.6M515.0 482.5L517.5 484.0L520.0 485.6M523.0 487.6L525.5 489.2L528.0 491.0M531.0 493.2L533.5 495.0L536.0 496.2M539.0 497.7L541.5 498.9L544.0 500.0M547.0 501.4L549.5 502.5L552.0 503.4M555.0 504.4L557.5 505.3L560.0 506.0M563.0 506.8L565.5 507.5L568.0 507.8M571.0 508.1L573.5 508.4L576.0 508.6M579.0 508.9L581.5 509.2L584.0 509.2M587.0 509.2L589.5 509.2L592.0 509.2M595.0 509.2L597.5 509.2L600.0 509.2M603.0 509.2L605.5 509.2L608.0 509.2M611.0 509.2L613.5 509.2L616.0 509.2M619.0 509.2L621.5 509.2L624.0 509.2M627.0 509.2L629.5 509.2L632.0 509.2M635.0 509.2L637.5 509.2L640.0 509.2M643.0 509.2L645.5 509.2L648.0 509.2M651.0 509.2L653.5 509.2L656.0 509.6M659.0 510.1L661.5 510.5L664.0 510.5M667.0 510.5L669.5 510.5L672.0 510.8M675.0 511.1L677.5 511.4L680.0 512.0M683.0 512.6L685.5 513.2L688.0 513.9M691.0 514.8L693.5 515.5L696.0 516.2M699.0 516.9L701.5 517.6L704.0 518.5M707.0 519.5L709.5 520.4L712.0 521.0M715.0 521.8L717.5 522.4L720.0 523.0M723.0 523.7L725.5 524.3L728.0 525.0M731.0 525.8L733.5 526.5L736.0 527.0M739.0 527.7L741.5 528.2L744.0 528.5M747.0 529.0L749.5 529.3L752.0 529.3M755.0 529.3L757.5 529.3L760.0 529.7M763.0 530.2L765.5 530.6L768.0 530.9M771.0 531.1L773.5 531.4L776.0 531.7M779.0 532.0L781.5 532.3L784.0 532.6M787.0 532.9L789.5 533.2L792.0 533.5M795.0 534.0L797.5 534.3L800.0 534.6M803.0 535.0L805.5 535.3L808.0 535.3M811.0 535.3L813.5 535.3L816.0 535.3M819.0 535.3L821.5 535.3L824.0 535.3M827.0 535.3L829.5 535.3L832.0 534.6M835.0 533.9L837.5 533.2L840.0 532.6M843.0 531.9L845.5 531.3L848.0 530.7M851.0 529.9L853.5 529.3L856.0 528.4M859.0 527.4L861.5 526.5L864.0 525.8M867.0 525.0L869.5 524.3L872.0 523.4M875.0 522.2L877.5 521.3L880.0 521.0M883.0 520.7L885.5 520.4L888.0 520.1M891.0 519.8L893.5 519.5L896.0 519.5M899.0 519.5L901.5 519.5L904.0 520.1M907.0 520.7L909.5 521.3L912.0 521.6M915.0 522.1L917.5 522.4L920.0 523.4M923.0 524.6L925.5 525.6L928.0 526.5M931.0 527.5L933.5 528.4L936.0 529.6M939.0 531.1L941.5 532.3L941.5 532.3" fill="none" stroke="#ff0000" stroke-width="1" shape-rendering="crispEdges"/>
</g>
<text x="8.5" y="452" textLength="123.5" lengthAdjust="spacingAndGlyphs">MACD(12,26,9) -59.47 -35.20</text>
<rect x="1198" y="500" width="2" height="1" fill="#000" shape-rendering="crispEdges"/>
<text x="1200.5" y="450" textLength="23" lengthAdjust="spacingAndGlyphs">64.57</text>
<text x="1200.5" y="504" textLength="18" lengthAdjust="spacingAndGlyphs">0.00</text>
<text x="1200.7" y="558" textLength="25.5" lengthAdjust="spacingAndGlyphs">-65.37</text>
<g clip-path="url(#c3)">
<g shape-rendering="crispEdges" stroke="#c0c0c0" stroke-width="1" stroke-dasharray="3 3">
<line x1="6" y1="597.5" x2="1197" y2="597.5"/>
<line x1="6" y1="639.5" x2="1197" y2="639.5"/>
</g>
<polyline points="5.5,625.4 13.5,626.5 21.5,628.6 29.5,626.3 37.5,637.5 45.5,628.6 53.5,618.5 61.5,612.2 69.5,614.4 77.5,613.5 85.5,616.5 93.5,614.4 101.5,611.2 109.5,616.2 117.5,617.4 125.5,617.4 133.5,623.3 141.5,626.5 149.5,624.5 157.5,613.5 165.5,610.3 173.5,612.6 181.5,610.3 189.5,612.6 197.5,611.4 205.5,610.3 213.5,615.3 221.5,615.3 229.5,624.1 237.5,625.4 245.5,624.1 253.5,625.4 261.5,629.1 269.5,630.4 277.5,626.5 285.5,625.0 293.5,623.3 301.5,621.1 309.5,617.4 317.5,606.7 325.5,603.4 333.5,613.1 341.5,607.6 349.5,607.3 357.5,596.3 365.5,594.3 373.5,586.3 381.5,589.9 389.5,594.3 397.5,594.3 405.5,589.5 413.5,599.3 421.5,600.5 429.5,604.3 437.5,607.3 445.5,614.4 453.5,612.2 461.5,608.5 469.5,619.2 477.5,621.1 485.5,626.8 493.5,630.4 501.5,628.2 509.5,626.3 517.5,626.3 525.5,627.3 533.5,625.4 541.5,618.5 549.5,622.4 557.5,623.6 565.5,622.4 573.5,621.5 581.5,621.5 589.5,614.4 597.5,627.3 605.5,628.6 613.5,617.4 621.5,620.1 629.5,621.5 637.5,619.2 645.5,627.3 653.5,621.5 661.5,625.9 669.5,629.5 677.5,633.9 685.5,636.6 693.5,630.4 701.5,632.5 709.5,628.2 717.5,628.2 725.5,631.2 733.5,635.2 741.5,629.1 749.5,623.6 757.5,628.6 765.5,635.2 773.5,637.5 781.5,638.9 789.5,628.2 797.5,630.4 805.5,620.1 813.5,622.0 821.5,624.1 829.5,625.4 837.5,614.4 845.5,618.5 853.5,622.4 861.5,621.1 869.5,620.1 877.5,622.4 885.5,628.2 893.5,635.2 901.5,636.6 909.5,629.5 917.5,635.2 925.5,637.5 933.5,638.3 941.5,644.6" fill="none" stroke="#1080ff" stroke-width="1" stroke-linejoin="round" shape-rendering="crispEdges" />
</g>
<text x="8.6" y="576" textLength="67.6" lengthAdjust="spacingAndGlyphs">RSI(14) 25.1700</text>
<text x="1201.4" y="574" textLength="13.9" lengthAdjust="spacingAndGlyphs">100</text>
<text x="1199.5" y="601" textLength="9.7" lengthAdjust="spacingAndGlyphs">70</text>
<text x="1199.5" y="643" textLength="9.7" lengthAdjust="spacingAndGlyphs">30</text>
<text x="1200.6" y="669" textLength="4.8" lengthAdjust="spacingAndGlyphs">0</text>
<g shape-rendering="crispEdges">
<rect x="5" y="673" width="1" height="3" fill="#000"/>
<rect x="69" y="673" width="1" height="3" fill="#000"/>
<rect x="133" y="673" width="1" height="3" fill="#000"/>
<rect x="197" y="673" width="1" height="3" fill="#000"/>
<rect x="261" y="673" width="1" height="3" fill="#000"/>
<rect x="325" y="673" width="1" height="3" fill="#000"/>
<rect x="389" y="673" width="1" height="3" fill="#000"/>
<rect x="453" y="673" width="1" height="3" fill="#000"/>
<rect x="517" y="673" width="1" height="3" fill="#000"/>
<rect x="581" y="673" width="1" height="3" fill="#000"/>
<rect x="645" y="673" width="1" height="3" fill="#000"/>
<rect x="709" y="673" width="1" height="3" fill="#000"/>
<rect x="773" y="673" width="1" height="3" fill="#000"/>
<rect x="837" y="673" width="1" height="3" fill="#000"/>
<rect x="901" y="673" width="1" height="3" fill="#000"/>
</g>
<text x="4.0" y="685" textLength="48.2" lengthAdjust="spacingAndGlyphs">8 Nov 2021</text>
<text x="68.0" y="685" textLength="55.3" lengthAdjust="spacingAndGlyphs">12 Nov 01:30</text>
<text x="132.0" y="685" textLength="55.3" lengthAdjust="spacingAndGlyphs">18 Nov 01:30</text>
<text x="196.0" y="685" textLength="55.3" lengthAdjust="spacingAndGlyphs">24 Nov 01:30</text>
<text x="260.0" y="685" textLength="55.3" lengthAdjust="spacingAndGlyphs">30 Nov 01:30</text>
<text x="324.0" y="685" textLength="49.5" lengthAdjust="spacingAndGlyphs">6 Dec 01:30</text>
<text x="388.0" y="685" textLength="54.0" lengthAdjust="spacingAndGlyphs">10 Dec 01:30</text>
<text x="452.0" y="685" textLength="54.0" lengthAdjust="spacingAndGlyphs">16 Dec 01:30</text>
<text x="516.0" y="685" textLength="54.0" lengthAdjust="spacingAndGlyphs">22 Dec 01:30</text>
<text x="580.0" y="685" textLength="54.0" lengthAdjust="spacingAndGlyphs">28 Dec 01:30</text>
<text x="644.0" y="685" textLength="47.7" lengthAdjust="spacingAndGlyphs">4 Jan 01:30</text>
<text x="708.0" y="685" textLength="52.2" lengthAdjust="spacingAndGlyphs">10 Jan 01:30</text>
<text x="772.0" y="685" textLength="52.2" lengthAdjust="spacingAndGlyphs">14 Jan 01:30</text>
<text x="836.0" y="685" textLength="52.2" lengthAdjust="spacingAndGlyphs">20 Jan 01:30</text>
<text x="900.0" y="685" textLength="52.2" lengthAdjust="spacingAndGlyphs">26 Jan 01:30</text>
</svg></body></html>
